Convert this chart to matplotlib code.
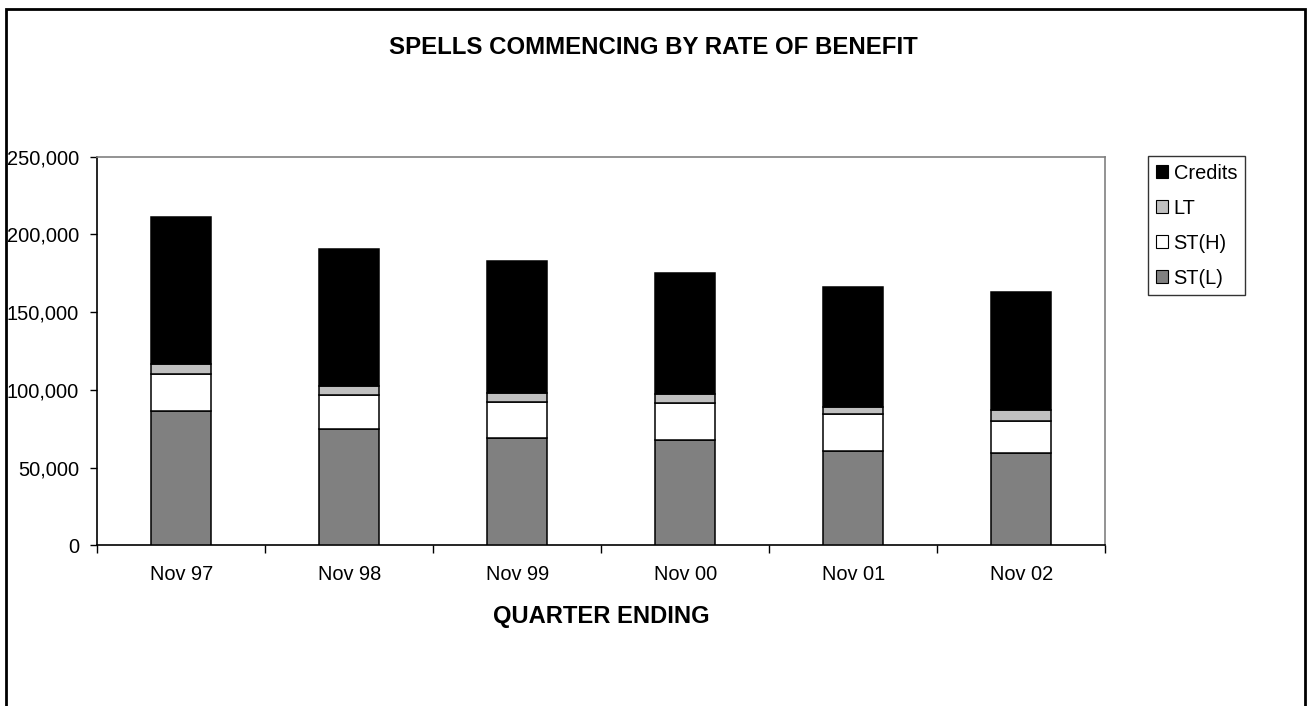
import matplotlib.pyplot as plt
from matplotlib.patches import Patch, Rectangle
from matplotlib.ticker import FuncFormatter, MultipleLocator
import numpy as np

plt.rcParams['font.family'] = ['Liberation Sans', 'DejaVu Sans']

# Data
quarters = ['Nov 97', 'Nov 98', 'Nov 99', 'Nov 00', 'Nov 01', 'Nov 02']
st_low = [86400, 75000, 69000, 67800, 60700, 59600]
st_high = [23600, 21700, 23400, 23600, 23600, 20600]
lt = [6800, 5800, 5800, 6000, 4700, 6900]
credits = [94600, 88300, 84500, 78000, 77200, 75900]

series = [('ST(L)', st_low, '#808080'),
          ('ST(H)', st_high, '#ffffff'),
          ('LT', lt, '#c0c0c0'),
          ('Credits', credits, '#000000')]

fig = plt.figure(figsize=(13.07, 7.06), dpi=100, facecolor='white')
ax = fig.add_axes([0.0744, 0.2276, 0.7713, 0.5504])

x = np.arange(len(quarters))
bottom = np.zeros(len(quarters))
handles = []
for name, vals, color in series:
    ax.bar(x, vals, width=0.357, bottom=bottom, color=color,
           edgecolor='black', linewidth=1.1, zorder=3)
    bottom += np.array(vals)
    handles.append(Patch(facecolor=color, edgecolor='black', linewidth=0.8, label=name))

ax.set_xlim(-0.5, len(quarters) - 0.5)
ax.set_ylim(0, 250000)
ax.yaxis.set_major_locator(MultipleLocator(50000))
ax.yaxis.set_major_formatter(FuncFormatter(lambda v, p: f'{int(v):,}'))

ax.set_xticks(x)
ax.set_xticklabels(quarters)
ax.set_xticks(np.arange(-0.5, len(quarters), 1.0), minor=True)
ax.tick_params(axis='x', which='major', length=0, pad=14, labelsize=14.4)
ax.tick_params(axis='x', which='minor', length=6, width=1, direction='out', color='black')
ax.tick_params(axis='y', length=5, width=1, direction='out', pad=8, labelsize=14.4)

ax.spines['left'].set_color('black')
ax.spines['bottom'].set_color('black')
ax.spines['top'].set_color('#808080')
ax.spines['right'].set_color('#808080')
for s in ax.spines.values():
    s.set_linewidth(1.2)

fig.text(0.5, 1 - 48 / 706, 'SPELLS COMMENCING BY RATE OF BENEFIT',
         ha='center', va='center', fontsize=17.3, fontweight='bold')
fig.text(0.4603, 1 - 617 / 706, 'QUARTER ENDING',
         ha='center', va='center', fontsize=17.1, fontweight='bold')

leg = fig.legend(handles=handles[::-1], loc='upper left',
                 bbox_to_anchor=(1148 / 1307, 1 - 156 / 706),
                 fontsize=14.4, frameon=True, fancybox=False, shadow=False,
                 handlelength=0.6, handleheight=0.6, handletextpad=0.3,
                 labelspacing=0.8, borderpad=0.38, borderaxespad=0)
leg.get_frame().set_edgecolor('black')
leg.get_frame().set_linewidth(1.0)

# Outer chart border
fig.patches.append(Rectangle((6 / 1307, -0.05), 1299 / 1307, 1.05 - 9 / 706,
                             transform=fig.transFigure, fill=False,
                             edgecolor='black', linewidth=2))

fig.savefig('out.png', dpi=100, facecolor='white')
